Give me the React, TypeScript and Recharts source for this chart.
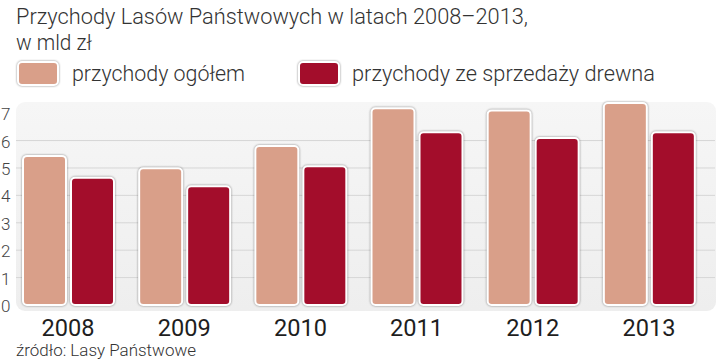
import React from 'react';
import { BarChart, Bar, XAxis, YAxis, CartesianGrid, Legend } from 'recharts';

const years = ['2008', '2009', '2010', '2011', '2012', '2013'];
const ogolem = [5.44, 4.99, 5.8, 7.18, 7.1, 7.37];
const drewno = [4.64, 4.33, 5.06, 6.3, 6.09, 6.3];
const yTicks = [0, 1, 2, 3, 4, 5, 6, 7];

const title1 = 'Przychody Lasów Państwowych w latach 2008–2013,';
const title2 = 'w mld zł';
const source = 'źródło: Lasy Państwowe';
const seriesNames = ['przychody ogółem', 'przychody ze sprzedaży drewna'];

const COLOR_A = '#d99f89';
const COLOR_B = '#a30d2b';
const FONT = "'Roboto', 'Open Sans', sans-serif";

const data = years.map((y, i) => ({ year: y, a: ogolem[i], b: drewno[i] }));

const BarShape = (props: any) => {
  const { x, y, width, height, fill } = props;
  if (height <= 0) return null;
  return (
    <rect
      x={x}
      y={y}
      width={width}
      height={height}
      rx={4}
      ry={4}
      fill={fill}
      stroke="#ffffff"
      strokeWidth={2}
      style={{ filter: 'drop-shadow(0px 0px 1.2px rgba(0,0,0,0.45))' }}
    />
  );
};

const YTick = (props: any) => {
  const { y, payload } = props;
  return (
    <text x={1} y={y} dy={7} fontSize={17} fontWeight={300} fill="#444" fontFamily={FONT} textAnchor="start">
      {payload.value}
    </text>
  );
};

const XTick = (props: any) => {
  const { x, y, payload } = props;
  return (
    <text x={x} y={y + 23} fontSize={24} fontWeight={400} fill="#1e1e1e" fontFamily={FONT} textAnchor="middle" textLength={53} lengthAdjust="spacingAndGlyphs">
      {payload.value}
    </text>
  );
};

const LegendContent = () => {
  const items = [
    { name: seriesNames[0], color: COLOR_A, sx: 18, tx: 72, tl: 173 },
    { name: seriesNames[1], color: COLOR_B, sx: 299, tx: 352, tl: 303 },
  ];
  return (
    <svg width={720} height={40} style={{ display: 'block' }}>
      {items.map((it) => (
        <g key={it.name}>
          <rect
            x={it.sx}
            y={3}
            width={40}
            height={23}
            rx={4}
            fill={it.color}
            stroke="#fff"
            strokeWidth={2}
            style={{ filter: 'drop-shadow(0px 0px 1.2px rgba(0,0,0,0.45))' }}
          />
          <text x={it.tx} y={22} fontSize={22} fontWeight={300} fill="#333" fontFamily={FONT} textLength={it.tl} lengthAdjust="spacingAndGlyphs">
            {it.name}
          </text>
        </g>
      ))}
    </svg>
  );
};

export default function App() {
  return (
    <div style={{ position: 'absolute', left: 0, top: 0, width: 720, height: 361, background: '#fff', overflow: 'hidden' }}>
      <div
        style={{
          position: 'absolute',
          left: 16,
          top: 102,
          width: 700,
          height: 209,
          borderRadius: 9,
          background: 'linear-gradient(#f6f6f6, #eeeeee)',
        }}
      />
      <svg width={720} height={361} style={{ position: 'absolute', left: 0, top: 0 }}>
        <text x={16} y={24} fontSize={22} fontWeight={300} fill="#333" fontFamily={FONT} textLength={512} lengthAdjust="spacingAndGlyphs">
          {title1}
        </text>
        <text x={16} y={50} fontSize={22} fontWeight={300} fill="#333" fontFamily={FONT} textLength={76} lengthAdjust="spacingAndGlyphs">
          {title2}
        </text>
        <text x={16} y={356} fontSize={17} fontWeight={300} fill="#333" fontFamily={FONT} textLength={180} lengthAdjust="spacingAndGlyphs">
          {source}
        </text>
      </svg>
      <div style={{ position: 'absolute', left: 0, top: 0 }}>
        <BarChart
          width={720}
          height={361}
          data={data}
          margin={{ top: 63, right: 5, bottom: 26, left: 0 }}
          barGap={5}
          barSize={43}
        >
          <CartesianGrid horizontal={true} vertical={false} stroke="#d6d6d6" strokeWidth={1} horizontalValues={[1, 2, 3, 4, 5, 6]} />
          <XAxis dataKey="year" axisLine={false} tickLine={false} tick={<XTick />} interval={0} height={30} padding={{ left: -6, right: 8 }} />
          <YAxis domain={[0, 7]} ticks={yTicks} axisLine={false} tickLine={false} width={16} tick={<YTick />} interval={0} />
          <Legend verticalAlign="top" align="left" content={<LegendContent />} wrapperStyle={{ top: 59, left: 0, width: 720 }} />
          <Bar dataKey="a" name={seriesNames[0]} fill={COLOR_A} shape={<BarShape />} isAnimationActive={false} />
          <Bar dataKey="b" name={seriesNames[1]} fill={COLOR_B} shape={<BarShape />} isAnimationActive={false} />
        </BarChart>
      </div>
    </div>
  );
}
